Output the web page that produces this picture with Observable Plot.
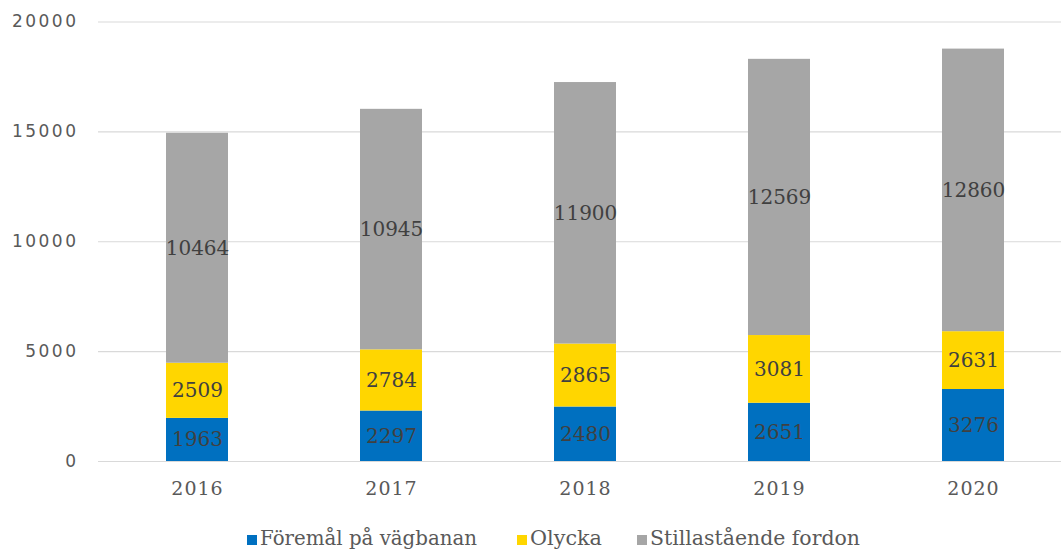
<!DOCTYPE html>
<html><head><meta charset="utf-8">
<script src="https://cdn.jsdelivr.net/npm/d3@7"></script>
<script src="https://cdn.jsdelivr.net/npm/@observablehq/plot@0.6"></script>
<style>
body{margin:0;background:#fff;}
svg{display:block;}
</style>
</head><body>
<div id="chart"></div>
<div id="legend"></div>
<script>
const years = ["2016","2017","2018","2019","2020"];
const seriesNames = ["Föremål på vägbanan","Olycka","Stillastående fordon"];
const foremal = [1963,2297,2480,2651,3276];
const olycka = [2509,2784,2865,3081,2631];
const stilla = [10464,10945,11900,12569,12860];
const yTicks = [0,5000,10000,15000,20000];
const colors = ["#0070c0","#ffd600","#a6a6a6"];

const seriesValues = [foremal, olycka, stilla];
const data = [];
seriesNames.forEach((s, i) => years.forEach((y, j) => data.push({year: y, series: s, value: seriesValues[i][j]})));

const chart = Plot.plot({
  width: 1061,
  height: 515,
  marginLeft: 98,
  marginRight: 0,
  marginTop: 21.5,
  marginBottom: 54,
  style: {background: "#fff"},
  x: {type: "band", domain: years, range: [98, 1072], paddingInner: 0.68, paddingOuter: 0.34},
  y: {domain: [0, 20000]},
  color: {domain: seriesNames, range: colors},
  marks: [
    Plot.ruleY(yTicks, {stroke: "#d9d9d9", strokeWidth: 1.2}),
    Plot.barY(data, Plot.stackY({x: "year", y: "value", z: "series", fill: "series", order: null})),
    Plot.text(data, Plot.stackY({x: "year", y: "value", z: "series", order: null, text: d => String(d.value),
      fill: "#404040", fontSize: 20, fontFamily: "DejaVu Serif, serif"})),
    Plot.axisY({ticks: yTicks, tickFormat: d => String(d), tickSize: 0, tickPadding: 20, label: null, fontSize: 17, fontFamily: "DejaVu Sans, sans-serif", fill: "#595959"}),
    Plot.axisX({tickSize: 0, tickPadding: 20, label: null, fontSize: 19, fontFamily: "DejaVu Serif, serif", fill: "#595959"})
  ]
});
chart.querySelectorAll("g[aria-label='y-axis tick label']").forEach(e => e.setAttribute("letter-spacing", "2.5"));
chart.querySelectorAll("g[aria-label='x-axis tick label']").forEach(e => e.setAttribute("letter-spacing", "1"));
document.getElementById("chart").appendChild(chart);

// legend (below the chart SVG)
const legendX = [247, 517, 637];
const legendW = [217, 72, 210];
const lsvg = d3.select("#legend").append("svg").attr("width", 1061).attr("height", 34);
const items = lsvg.selectAll("g").data(seriesNames).join("g")
  .attr("transform", (d, i) => `translate(${legendX[i]},0)`);
items.append("rect").attr("x", 0).attr("y", 20).attr("width", 10).attr("height", 10)
  .attr("fill", (d, i) => colors[i]);
items.append("text").attr("x", 13).attr("y", 30)
  .attr("font-family", "DejaVu Serif, serif").attr("font-size", 20).attr("fill", "#595959")
  .attr("textLength", (d, i) => legendW[i]).attr("lengthAdjust", "spacingAndGlyphs")
  .text(d => d);
</script>
</body></html>
